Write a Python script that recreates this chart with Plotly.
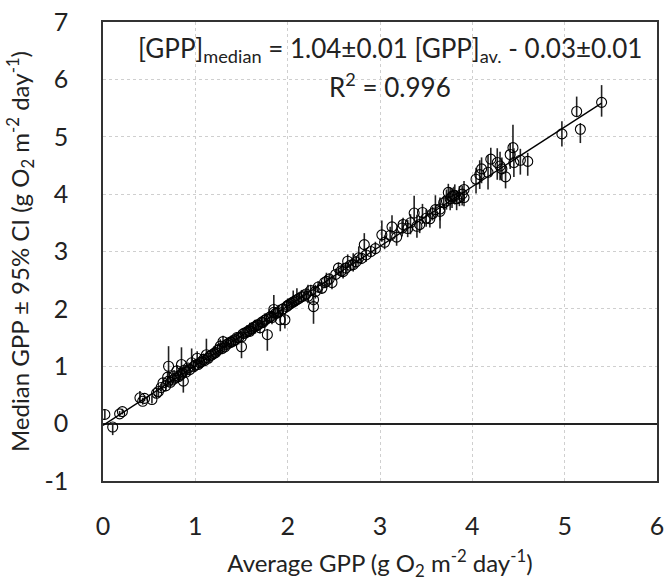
import plotly.graph_objects as go

# Average GPP (x), median GPP (y), 95% CI upper / lower half-widths
gpp_av = [0.02, 0.105, 0.18, 0.21, 0.40, 0.43, 0.45, 0.53, 0.58, 0.60, 0.63, 0.65, 0.68, 0.70, 0.71, 0.71,
          0.73, 0.75, 0.77, 0.78, 0.80, 0.82, 0.84, 0.85, 0.86, 0.87, 0.88, 0.90, 0.92, 0.94, 0.96, 0.98,
          1.00, 1.02, 1.03, 1.05, 1.07, 1.09, 1.10, 1.12, 1.14, 1.16, 1.18, 1.20, 1.22, 1.24, 1.26, 1.27,
          1.29, 1.30, 1.32, 1.34, 1.36, 1.38, 1.39, 1.41, 1.43, 1.45, 1.47, 1.50, 1.50, 1.52, 1.54, 1.56,
          1.58, 1.59, 1.61, 1.63, 1.65, 1.67, 1.68, 1.70, 1.72, 1.73, 1.75, 1.77, 1.78, 1.80, 1.82, 1.83,
          1.85, 1.85, 1.87, 1.89, 1.90, 1.92, 1.94, 1.95, 1.97, 1.99, 2.00, 2.02, 2.04, 2.06, 2.08, 2.10,
          2.12, 2.15, 2.18, 2.20, 2.22, 2.25, 2.28, 2.28, 2.30, 2.33, 2.37, 2.40, 2.42, 2.45, 2.48, 2.52,
          2.55, 2.58, 2.60, 2.63, 2.65, 2.68, 2.71, 2.74, 2.77, 2.80, 2.83, 2.85, 2.90, 2.95, 3.02, 3.05,
          3.11, 3.13, 3.18, 3.24, 3.25, 3.30, 3.33, 3.37, 3.40, 3.43, 3.46, 3.50, 3.54, 3.57, 3.60, 3.65,
          3.65, 3.69, 3.72, 3.74, 3.76, 3.78, 3.80, 3.81, 3.83, 3.86, 3.89, 3.91, 3.91, 4.04, 4.08, 4.10,
          4.17, 4.20, 4.27, 4.30, 4.32, 4.36, 4.41, 4.44, 4.45, 4.52, 4.60, 4.97, 5.13, 5.17, 5.40]

gpp_median = [0.16, -0.06, 0.17, 0.21, 0.45, 0.39, 0.44, 0.42, 0.53, 0.56, 0.63, 0.71, 0.66, 0.81, 1.00, 0.74,
              0.72, 0.76, 0.83, 0.79, 0.92, 0.82, 0.85, 1.03, 0.88, 0.74, 0.93, 0.90, 0.97, 0.94, 1.06, 0.99,
              1.02, 1.14, 1.03, 1.06, 1.08, 1.12, 1.10, 1.20, 1.14, 1.18, 1.20, 1.22, 1.24, 1.28, 1.30, 1.35,
              1.31, 1.43, 1.34, 1.38, 1.40, 1.42, 1.42, 1.44, 1.46, 1.50, 1.50, 1.34, 1.51, 1.57, 1.58, 1.60,
              1.62, 1.61, 1.65, 1.68, 1.69, 1.72, 1.72, 1.67, 1.77, 1.76, 1.80, 1.82, 1.55, 1.85, 1.87, 1.85,
              1.94, 1.99, 1.92, 1.93, 1.95, 1.81, 1.99, 2.00, 1.81, 2.04, 2.06, 2.08, 2.10, 2.12, 2.14, 2.16,
              2.18, 2.21, 2.23, 2.26, 2.22, 2.32, 2.16, 2.04, 2.30, 2.38, 2.36, 2.46, 2.48, 2.52, 2.46, 2.60,
              2.71, 2.66, 2.65, 2.71, 2.83, 2.76, 2.77, 2.82, 2.89, 2.88, 3.12, 2.94, 3.00, 3.05, 3.29, 3.16,
              3.28, 3.43, 3.25, 3.41, 3.47, 3.40, 3.50, 3.67, 3.44, 3.47, 3.68, 3.58, 3.57, 3.66, 3.73, 3.74,
              3.70, 3.85, 3.88, 4.03, 3.92, 3.96, 3.98, 3.97, 3.92, 3.94, 4.00, 4.08, 3.94, 4.26, 4.34, 4.44,
              4.38, 4.61, 4.55, 4.49, 4.44, 4.30, 4.69, 4.81, 4.55, 4.59, 4.57, 5.05, 5.44, 5.13, 5.60]

ci_plus = [0.08, 0.06, 0.05, 0.05, 0.12, 0.06, 0.05, 0.07, 0.06, 0.08, 0.06, 0.08, 0.10, 0.10, 0.35, 0.08,
           0.10, 0.08, 0.10, 0.08, 0.10, 0.08, 0.10, 0.30, 0.10, 0.10, 0.08, 0.10, 0.08, 0.10, 0.25, 0.08,
           0.10, 0.12, 0.08, 0.10, 0.08, 0.10, 0.08, 0.28, 0.08, 0.10, 0.08, 0.10, 0.08, 0.10, 0.08, 0.12,
           0.10, 0.10, 0.08, 0.12, 0.08, 0.10, 0.12, 0.08, 0.10, 0.08, 0.12, 0.10, 0.10, 0.10, 0.08, 0.12,
           0.08, 0.15, 0.10, 0.08, 0.12, 0.10, 0.08, 0.15, 0.10, 0.08, 0.12, 0.10, 0.10, 0.10, 0.08, 0.12,
           0.30, 0.10, 0.10, 0.08, 0.12, 0.10, 0.10, 0.08, 0.12, 0.10, 0.12, 0.08, 0.10, 0.20, 0.08, 0.20,
           0.10, 0.12, 0.08, 0.10, 0.20, 0.10, 0.25, 0.12, 0.12, 0.10, 0.12, 0.10, 0.15, 0.10, 0.12, 0.10,
           0.10, 0.10, 0.15, 0.10, 0.12, 0.10, 0.20, 0.10, 0.20, 0.10, 0.20, 0.12, 0.10, 0.12, 0.25, 0.12,
           0.15, 0.20, 0.15, 0.15, 0.12, 0.15, 0.15, 0.30, 0.20, 0.15, 0.15, 0.15, 0.15, 0.12, 0.25, 0.20,
           0.15, 0.12, 0.20, 0.15, 0.20, 0.15, 0.15, 0.20, 0.15, 0.20, 0.15, 0.15, 0.15, 0.20, 0.25, 0.20,
           0.30, 0.20, 0.25, 0.25, 0.20, 0.20, 0.20, 0.40, 0.25, 0.20, 0.15, 0.22, 0.26, 0.11, 0.30]

ci_minus = [0.08, 0.14, 0.05, 0.05, 0.08, 0.06, 0.05, 0.07, 0.06, 0.08, 0.06, 0.08, 0.10, 0.10, 0.15, 0.08,
            0.10, 0.08, 0.08, 0.08, 0.10, 0.08, 0.10, 0.15, 0.10, 0.20, 0.08, 0.10, 0.08, 0.10, 0.10, 0.08,
            0.10, 0.08, 0.08, 0.10, 0.08, 0.10, 0.08, 0.08, 0.08, 0.10, 0.08, 0.10, 0.08, 0.10, 0.08, 0.08,
            0.10, 0.10, 0.08, 0.10, 0.08, 0.10, 0.08, 0.08, 0.10, 0.08, 0.12, 0.20, 0.10, 0.10, 0.08, 0.10,
            0.08, 0.10, 0.10, 0.08, 0.12, 0.10, 0.08, 0.10, 0.10, 0.08, 0.10, 0.10, 0.28, 0.10, 0.08, 0.12,
            0.10, 0.10, 0.10, 0.08, 0.10, 0.20, 0.10, 0.08, 0.15, 0.10, 0.10, 0.08, 0.10, 0.10, 0.08, 0.10,
            0.10, 0.10, 0.08, 0.10, 0.12, 0.10, 0.10, 0.30, 0.12, 0.10, 0.10, 0.10, 0.12, 0.10, 0.12, 0.10,
            0.12, 0.10, 0.12, 0.10, 0.12, 0.10, 0.12, 0.10, 0.10, 0.10, 0.12, 0.12, 0.10, 0.10, 0.12, 0.12,
            0.12, 0.12, 0.15, 0.15, 0.15, 0.15, 0.20, 0.15, 0.20, 0.15, 0.20, 0.15, 0.15, 0.12, 0.15, 0.20,
            0.30, 0.12, 0.15, 0.15, 0.20, 0.20, 0.15, 0.15, 0.20, 0.15, 0.20, 0.20, 0.15, 0.25, 0.25, 0.25,
            0.30, 0.30, 0.30, 0.25, 0.20, 0.20, 0.25, 0.20, 0.25, 0.25, 0.25, 0.22, 0.10, 0.24, 0.25]

# Regression: [GPP]median = 1.04 [GPP]av. - 0.03
fit_slope = 1.04
fit_intercept = -0.03
fit_x = [0.0, 5.4]
fit_y = [fit_slope * v + fit_intercept for v in fit_x]

x_ticks = [0, 1, 2, 3, 4, 5, 6]
y_ticks = [-1, 0, 1, 2, 3, 4, 5, 6, 7]

FONT = "Lato, 'Open Sans', sans-serif"
TXT = "#222222"

fig = go.Figure()
fig.add_trace(go.Scatter(
    x=gpp_av, y=gpp_median, mode="markers",
    marker=dict(symbol="circle-open", size=10, color="black", line=dict(width=1.1, color="black")),
    error_y=dict(type="data", symmetric=False, array=ci_plus, arrayminus=ci_minus,
                 color="#222222", thickness=1.6, width=0),
    showlegend=False,
))
fig.add_trace(go.Scatter(
    x=fit_x, y=fit_y, mode="lines",
    line=dict(color="black", width=1.3), showlegend=False,
))

fig.add_annotation(
    x=3.11, y=6.52, xref="x", yref="y", showarrow=False,
    text="[GPP]<sub>median</sub> = 1.04±0.01 [GPP]<sub>av.</sub> - 0.03±0.01",
    font=dict(family=FONT, size=26, color=TXT),
)
fig.add_annotation(
    x=3.11, y=5.9, xref="x", yref="y", showarrow=False,
    text="R<sup>2</sup> = 0.996",
    font=dict(family=FONT, size=26, color=TXT),
)

fig.update_layout(
    width=667, height=581,
    margin=dict(l=103, r=10, t=22, b=100),
    paper_bgcolor="white", plot_bgcolor="white",
    font=dict(family=FONT, color=TXT),
)
fig.update_xaxes(
    range=[0, 6], tickvals=x_ticks, ticktext=[str(v) for v in x_ticks],
    showgrid=True, gridcolor="#cfcfcf", gridwidth=1, griddash="dot",
    showline=True, linecolor="#333333", linewidth=1.5, mirror=True,
    zeroline=False, ticks="", ticklabelstandoff=22, automargin=False,
    ticklabeloverflow="allow",
    tickfont=dict(family=FONT, size=25, color=TXT),
    title=dict(text="Average GPP (g O<sub>2</sub> m<sup>-2</sup> day<sup>-1</sup>)",
               font=dict(family=FONT, size=24, color=TXT), standoff=20),
)
fig.update_yaxes(
    range=[-1, 7], tickvals=y_ticks, ticktext=[str(v) for v in y_ticks],
    showgrid=True, gridcolor="#cfcfcf", gridwidth=1, griddash="dot",
    showline=True, linecolor="#333333", linewidth=1.5, mirror=True,
    zeroline=True, zerolinecolor="#222222", zerolinewidth=1.5,
    ticks="", ticklabelstandoff=28, automargin=False,
    ticklabeloverflow="allow",
    tickfont=dict(family=FONT, size=25, color=TXT),
    title=dict(text="Median GPP ± 95% CI (g O<sub>2</sub> m<sup>-2</sup> day<sup>-1</sup>)",
               font=dict(family=FONT, size=24, color=TXT), standoff=8),
)

fig.write_html(
    "out.html",
    config={"displayModeBar": False},
    post_script="document.body.style.margin='0';document.body.style.overflow='hidden';",
)
